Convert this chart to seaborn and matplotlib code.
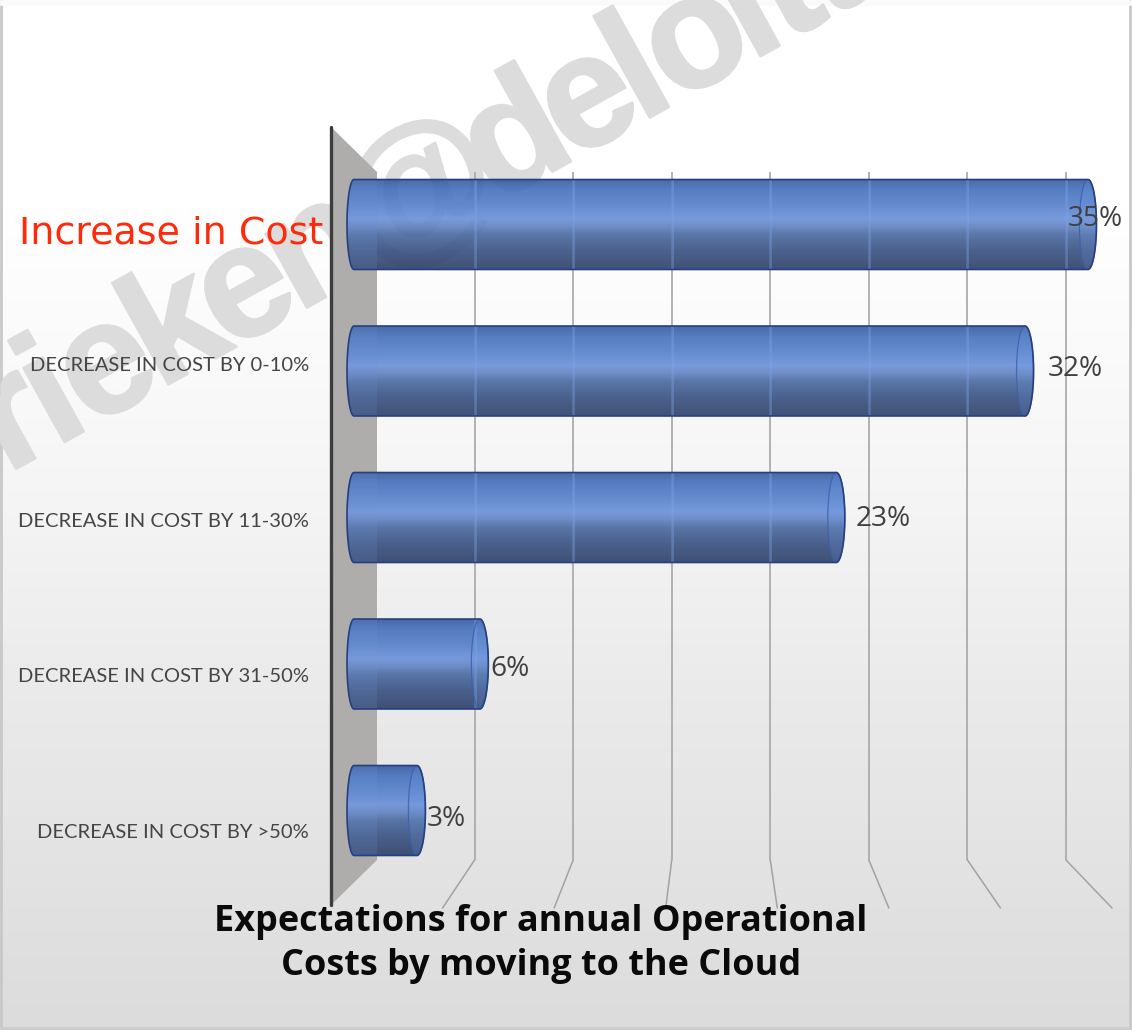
import numpy as np
import pandas as pd
import matplotlib
matplotlib.use("Agg")
import matplotlib.pyplot as plt
import matplotlib.patheffects as pe
import seaborn as sns
from matplotlib.colors import LinearSegmentedColormap
from matplotlib.patches import ConnectionPatch, Ellipse, PathPatch, Polygon
from matplotlib.path import Path
from matplotlib.transforms import blended_transform_factory

# Survey results
categories = [
    "Increase in Cost",
    "DECREASE IN COST BY 0-10%",
    "DECREASE IN COST BY 11-30%",
    "DECREASE IN COST BY 31-50%",
    "DECREASE IN COST BY >50%",
]
shares = [35, 32, 23, 6, 3]
grid_ticks = [5, 10, 15, 20, 25, 30, 35]
title_text = "Expectations for annual Operational\nCosts by moving to the Cloud"
watermark_text = "frieken@deloitte"
# Advance widths of the heavy sans letters, in em
glyph_advance = {"f": .333, "r": .389, "i": .278, "e": .556, "k": .556, "n": .611,
                 "@": .975, "d": .611, "l": .278, "o": .611, "t": .333}

W, H = 1132, 1030
PX = 0.72  # points per pixel at dpi 100

sns.set_theme(style="white")
fig = plt.figure(figsize=(W / 100, H / 100), dpi=100)


def axes_from_px(x0, y0, x1, y1, **kw):
    ax = fig.add_axes([x0 / W, 1 - y1 / H, (x1 - x0) / W, (y1 - y0) / H], **kw)
    ax.patch.set_alpha(0)
    return ax


# Page backdrop, watermark and side wall share a pixel-scaled canvas
ax_bg = axes_from_px(0, 0, W, H, zorder=0)
ax_bg.set_xlim(0, W)
ax_bg.set_ylim(H, 0)
ax_bg.axis("off")
page = LinearSegmentedColormap.from_list(
    "page",
    [(0, "#ffffff"), (0.2, "#ffffff"), (0.38, "#f9f9f9"), (0.5, "#f4f4f4"),
     (0.68, "#eaeaea"), (0.84, "#e3e3e3"), (1, "#dcdcdc")],
)
ax_bg.imshow(np.linspace(0, 1, 256)[:, None], cmap=page, aspect="auto",
             extent=(0, W, H, 0), zorder=0)
for spine_x in (1, W - 2):
    ax_bg.axvline(spine_x, color="#c8c8c8", lw=2.0, zorder=1)
ax_bg.axhline(H - 2, color="#cccccc", lw=2.0, zorder=1)
ax_bg.axhline(3, color="#fafafa", lw=4, zorder=1)

# Watermark set letter by letter on a rotated baseline with tightened spacing
WM_SIZE = 160
WM_TIGHT = 0.89
WM_ANGLE = 29
WM_L_FOOT = np.array([640.0, 123.0])
wm_dir = np.array([np.cos(np.radians(WM_ANGLE)), -np.sin(np.radians(WM_ANGLE))])
wm_steps = np.array([glyph_advance[c] for c in watermark_text]) * WM_SIZE * WM_TIGHT
wm_offsets = np.concatenate([[0], np.cumsum(wm_steps)[:-1]])
wm_offsets -= wm_offsets[watermark_text.index("l")]
for ch, off in zip(watermark_text, wm_offsets):
    px, py = WM_L_FOOT + wm_dir * off
    ax_bg.text(px, py, ch, rotation=WM_ANGLE, rotation_mode="anchor",
               fontsize=WM_SIZE * PX, family="Liberation Sans", weight="bold",
               color="#dcdcdc", ha="left", va="baseline", zorder=2, clip_on=True,
               path_effects=[pe.withStroke(linewidth=2.5 * PX, foreground="#dcdcdc")])

wall = Polygon([(331, 127), (377, 172), (377, 860), (331, 905)], closed=True,
               facecolor="#aeadac", edgecolor="none", zorder=3)
ax_bg.add_patch(wall)
ax_bg.plot([331, 331], [127, 905], color="#3c3c3c", lw=2.4, zorder=4,
           solid_capstyle="round")

# Back plane gridlines and the floor lines running toward the viewer
ax_grid = axes_from_px(376, 172, 1066, 860, zorder=1)
ax_grid.set_xlim(0, 35)
ax_grid.set_ylim(0, 1)
ax_grid.axis("off")
ax_floor = axes_from_px(331, 860, 1112, 908, zorder=1)
ax_floor.set_xlim(0, 35)
ax_floor.set_ylim(1, 0)
ax_floor.axis("off")
ax_grid.vlines(grid_ticks, 0, 1, color="#a6a6a6", lw=1.2, clip_on=False)
for tick in grid_ticks:
    ax_grid.add_artist(ConnectionPatch(
        xyA=(tick, 0), coordsA=ax_grid.transData,
        xyB=(tick, 1), coordsB=ax_floor.transData,
        color="#a2a2a2", lw=1.1))

# Horizontal cylinders: seaborn lays out the bars, shading fills their outline
BAR_LEFT, BAR_UNIT = 354.0, 20.97
XMIN, XMAX = -1, 36
ROW_H = 146.5
ROW_TOP = 224.5 - ROW_H / 2
ax_bar = axes_from_px(BAR_LEFT + BAR_UNIT * XMIN, ROW_TOP, BAR_LEFT + BAR_UNIT * XMAX,
                      ROW_TOP + ROW_H * 5, zorder=2)
frame = pd.DataFrame({"category": categories, "share": shares})
sns.barplot(data=frame, y="category", x="share", orient="h", width=0.614,
            color="#4a74bd", saturation=1, ax=ax_bar)
ax_bar.set_xlim(XMIN, XMAX)
ax_bar.set_ylim(4.5, -0.5)
ax_bar.axis("off")

cylinder = LinearSegmentedColormap.from_list(
    "cylinder",
    [(0, "#35599f"), (0.12, "#4470bd"), (0.30, "#5680cb"), (0.44, "#6990da"),
     (0.53, "#5f80c0"), (0.62, "#48679f"), (0.80, "#374f80"), (1, "#2c3f68")],
)
cap_half = 8.5 / BAR_UNIT
left_half = 7.0 / BAR_UNIT
theta = np.linspace(-np.pi / 2, np.pi / 2, 60)
grid_on_bar = blended_transform_factory(ax_grid.transData, ax_bar.transData)

for bar in list(ax_bar.patches):
    bar.set_facecolor("none")
    bar.set_edgecolor("none")
    x0, y0, w, h = bar.get_x(), bar.get_y(), bar.get_width(), bar.get_height()
    yc = y0 + h / 2
    end = x0 + w
    # Outline: the bar rectangle closed by a half ellipse at each end
    right_arc = np.column_stack([end + cap_half * np.cos(theta),
                                 yc + h / 2 * np.sin(theta)])
    left_arc = np.column_stack([x0 - left_half * np.cos(theta[::-1]),
                                yc + h / 2 * np.sin(theta[::-1])])
    verts = np.vstack([right_arc, left_arc, right_arc[:1]])
    outline = Path(verts, closed=True)

    shell = PathPatch(outline, facecolor="none", edgecolor="#263f80", lw=1.2, zorder=4)
    ax_bar.add_patch(shell)
    clip = PathPatch(outline, transform=ax_bar.transData, facecolor="none", edgecolor="none")
    ax_bar.add_patch(clip)
    img = ax_bar.imshow(np.linspace(0, 1, 128)[:, None], cmap=cylinder, aspect="auto",
                        extent=(x0 - left_half, end + cap_half, y0 + h, y0),
                        alpha=0.9, zorder=3)
    img.set_clip_path(clip)

    # Pale band where the bar passes in front of the side wall
    wall_edge = (377 - BAR_LEFT) / BAR_UNIT
    band = ax_bar.axvspan(x0 - left_half, wall_edge, ymin=0, ymax=1,
                          color="#8fb4f5", alpha=0.18, lw=0, zorder=3.2)
    band.set_clip_path(clip)

    # Gridlines glowing through the translucent cylinder
    for tick in grid_ticks:
        ray = ax_bar.plot([tick, tick], [y0, y0 + h], transform=grid_on_bar,
                          color="#86aef2", lw=1.8, alpha=0.4, zorder=3.4)[0]
        ray.set_clip_path(clip)

    # Open end of the cylinder
    ax_bar.add_patch(Ellipse((end, yc), 2 * cap_half, h, facecolor="#6d9be6",
                             alpha=0.2, edgecolor="none", zorder=3.6))
    ax_bar.add_patch(Ellipse((end, yc), 2 * cap_half, h, facecolor="none",
                             edgecolor="#3a5fae", alpha=0.8, lw=0.9, zorder=3.8))

ax_bar.set_xlim(XMIN, XMAX)
ax_bar.set_ylim(4.5, -0.5)

# Value labels; offsets in pixels from each cylinder's end
value_dx = [-20, 23, 19, 11, 10]
value_dy = [-6, -2, 1, 5, 8]
for i, (value, dx, dy) in enumerate(zip(shares, value_dx, value_dy)):
    ax_bar.annotate(f"{value}%", xy=(value, i), xytext=(dx * PX, -dy * PX),
                    textcoords="offset points", ha="left", va="center",
                    fontsize=28 * PX, family="Open Sans", color="#404040",
                    zorder=6, annotation_clip=False)

# Foreground text on its own canvas
ax_top = axes_from_px(0, 0, W, H, zorder=5)
ax_top.set_xlim(0, W)
ax_top.set_ylim(H, 0)
ax_top.axis("off")
ax_top.text(323, 233, categories[0], ha="right", va="center", color="#ff2a0a",
            fontsize=38 * PX, family="DejaVu Sans", fontweight="normal")
LABEL_Y0, LABEL_STEP = 365.5, 155.6
for i, label in enumerate(categories[1:]):
    ax_top.text(309, LABEL_Y0 + i * LABEL_STEP, label, ha="right", va="center",
                color="#454545", fontsize=20.1 * PX, family="Lato")
ax_top.text(541, 944, title_text, ha="center", va="center", color="#0a0a0a",
            fontsize=36 * PX, family="Open Sans", weight="bold", linespacing=1.33)

fig.savefig("out.png", dpi=100)
